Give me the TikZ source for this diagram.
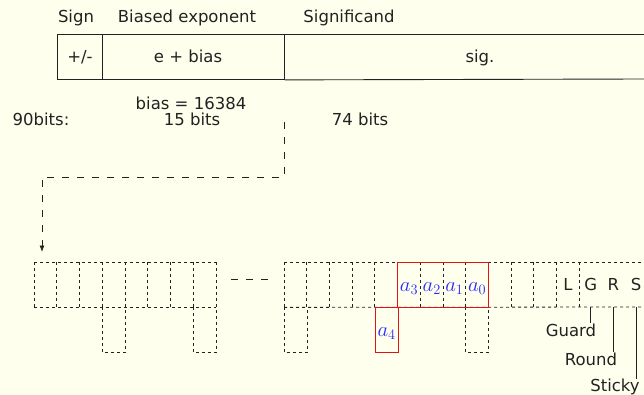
\documentclass[tikz,border=0pt]{standalone}
\usepackage{graphicx}
\usepackage{fontspec}
\setmainfont{DejaVu Sans}
\usetikzlibrary{arrows.meta,calc}
\definecolor{paper}{RGB}{255,255,238}
\definecolor{ink}{RGB}{34,34,34}
\definecolor{idx}{RGB}{40,40,250}
\definecolor{hl}{RGB}{225,20,20}
\newcommand{\bitdigit}[1]{\scalebox{1.2}{$a_{#1}$}}

\begin{document}
\begin{tikzpicture}[x=1pt,y=-1pt,
  every node/.style={font=\fontsize{16.5}{19}\selectfont, text=ink, inner sep=0pt},
  txt/.style={anchor=base},
  field/.style={draw=ink, line width=0.9pt, minimum height=45pt, anchor=north west},
  slot/.style={minimum width=22.7pt, minimum height=45pt, anchor=north west},
  grid/.style={draw=ink, dashed, line width=0.8pt},
  digit/.style={text=idx, anchor=base},
  hlbox/.style={draw=hl, line width=1pt},
  longdash/.style={draw=ink, line width=0.8pt, dash pattern=on 7pt off 8pt},
  tick/.style={draw=ink, line width=0.8pt}
]
% canvas
\fill[paper] (0,0) rectangle (644,395);
\useasboundingbox (0,0) rectangle (644,395);

% field captions
\node[txt] (capsign) at (76,22.5) {Sign};
\node[txt] (capexp) at (187,22.5) {Biased exponent};
\node[txt] (capsig) at (349,22.5) {Significand};

% 90-bit layout, open at the right
\node[field, minimum width=45pt] (fsign) at (57,34) {};
\node[field, minimum width=182pt] (fexp) at (102,34) {};
\draw[draw=ink, line width=0.9pt] (fexp.north east) -- (644,34);
\draw[draw=ink, line width=0.9pt] (fexp.south east) -- (644,79);
\node[txt] (tsign) at (80,63) {+/-};
\node[txt] (texp) at (188,63) {e + bias};
\node[txt] (tsig) at (480,63) {sig.};

% widths
\node[txt] (nbits) at (41,125.5) {90bits:};
\node[txt] (bias) at (191,110) {bias = 16384};
\node[txt] (wexp) at (192,125.5) {15 bits};
\node[txt] (wsig) at (360,125.5) {74 bits};

% first group of bit cells
\foreach \k in {0,...,7}
  \node[slot] (p\k) at ({34+22.75*\k},262) {};
\foreach \k in {3,7}
  \node[slot] (pl\k) at ({34+22.75*\k},307) {};
\draw[grid] (p0.north west) -- (p7.north east);
\draw[grid] (p0.south west) -- (p7.south east);
\foreach \k in {0,...,7}
  \draw[grid] (p\k.north west) -- (p\k.south west);
\draw[grid] (p7.north east) -- (p7.south east);
\foreach \k in {3,7}
  \draw[grid] (pl\k.north west) -- (pl\k.south west) -- (pl\k.south east) -- (pl\k.north east);

% second group of bit cells
\foreach \k in {0,...,12}
  \node[slot] (q\k) at ({284+22.7*\k},262) {};
\node[slot] (gb) at ({284+22.7*13},262) {};
\node[slot] (rb) at ({284+22.7*14},262) {};
\node[slot] (sb) at ({284+22.7*15},262) {};
\draw[grid] (q0.north west) -- (644,262);
\draw[grid] (q0.south west) -- (644,307);
\foreach \k in {0,...,12}
  \draw[grid] (q\k.north west) -- (q\k.south west);
\draw[grid] (q12.north east) -- (q12.south east);
\node[slot] (ql0) at (284,307) {};
\node[slot] (ql8) at ({284+22.7*8},307) {};
\foreach \c in {ql0,ql8}
  \draw[grid] (\c.north west) -- (\c.south west) -- (\c.south east) -- (\c.north east);

% elision between the groups
\draw[longdash] ($(p7.east)+(15,-5.5)$) -- ($(q0.west)+(-14,-5.5)$);

% highlighted digits
\draw[hlbox] (q5.north west) rectangle (q8.south east);
\node[slot, draw=hl, line width=1pt] (ql4) at ({284+22.7*4},307) {};
\node[digit] (a3) at ($(q5.center)+(0,6.5)$) {\bitdigit{3}};
\node[digit] (a2) at ($(q6.center)+(0,6.5)$) {\bitdigit{2}};
\node[digit] (a1) at ($(q7.center)+(0,6.5)$) {\bitdigit{1}};
\node[digit] (a0) at ($(q8.center)+(0,6.5)$) {\bitdigit{0}};
\node[digit] (a4) at ($(ql4.center)+(0,6.5)$) {\bitdigit{4}};

% last bit and rounding bits
\node[anchor=base] (lb) at ($(q12.center)+(0,5.5)$) {L};
\node[anchor=base] (gl) at ($(gb.center)+(0,5.5)$) {G};
\node[anchor=base] (rl) at ($(rb.center)+(0,5.5)$) {R};
\node[anchor=base] (sl) at ($(sb.center)+(0,5.5)$) {S};

\node[txt] (guard) at (571,336) {Guard};
\node[txt] (round) at (591,365) {Round};
\node[txt] (sticky) at (615,391.5) {Sticky};
\draw[tick] (gb.south) -- ++(0,16);
\draw[tick] (rb.south) -- ++(0,45);
\draw[tick] (sb.south) -- ++(0,72);

% the significand is moved down into the bit cells
\coordinate (src) at (284,122);
\coordinate (bend) at (42,177);
\draw[longdash, -{Latex[length=6.5pt,width=5pt]}, shorten >=10pt]
  (src) |- (bend) -- (bend |- p0.north);
\end{tikzpicture}
\end{document}
